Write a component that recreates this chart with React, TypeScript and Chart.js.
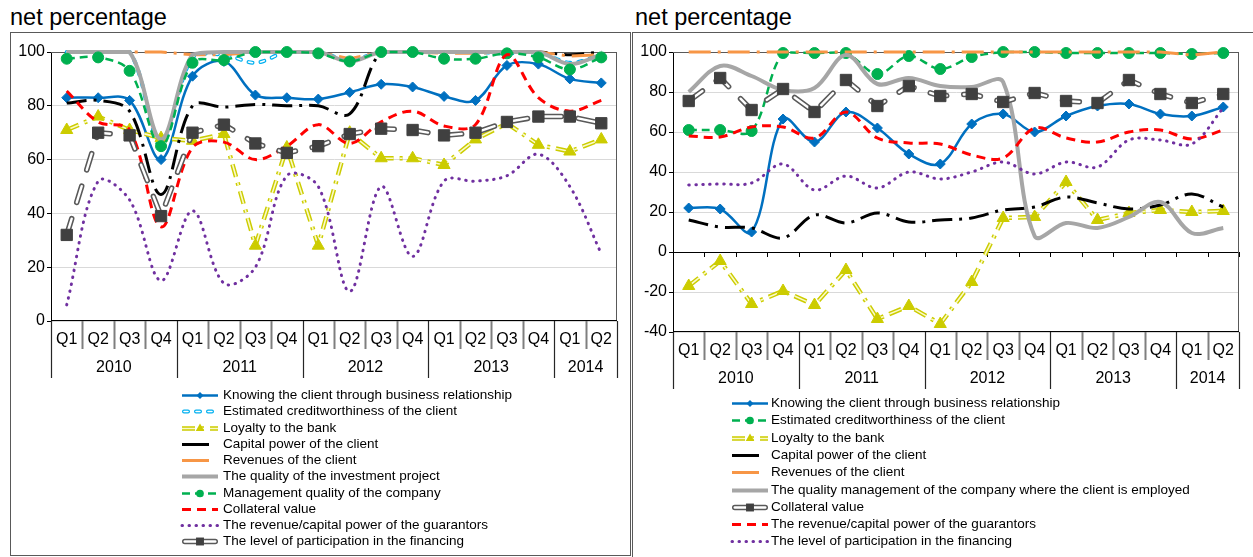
import React, { useEffect, useRef } from 'react';
import { Chart, registerables } from 'chart.js';

Chart.register(...registerables);

const FONT = '"Liberation Sans", Arial, sans-serif';

// ---------- categories ----------
const QUARTERS = ['Q1', 'Q2', 'Q3', 'Q4', 'Q1', 'Q2', 'Q3', 'Q4', 'Q1', 'Q2', 'Q3', 'Q4', 'Q1', 'Q2', 'Q3', 'Q4', 'Q1', 'Q2'];
const YEARS = ['2010', '2011', '2012', '2013', '2014'];
const YEAR_SPANS = [4, 4, 4, 4, 2];

const TITLE = 'net percentage';
const LEFT_Y_MIN = 0;
const LEFT_Y_MAX = 100;
const RIGHT_Y_MIN = -40;
const RIGHT_Y_MAX = 100;
const Y_STEP = 20;

// ---------- left panel ----------
const LEFT_LABELS = [
  'Knowing the client through business relationship',
  'Estimated creditworthiness of the client',
  'Loyalty to the bank',
  'Capital power of the client',
  'Revenues of the client',
  'The quality of the investment project',
  'Management quality of the company',
  'Collateral value',
  'The revenue/capital power of the guarantors',
  'The level of participation in the financing',
];
const L_KNOWING = [83, 83, 82, 60, 91, 96.5, 84, 83, 82.5, 85, 88, 87, 83.5, 82, 95, 95.5, 90, 88.5];
const L_CREDIT = [100, 100, 100, 66, 98, 99, 96, 100, 100, 97, 100, 100, 100, 100, 99.5, 100, 96, 99];
const L_LOYALTY = [71, 76, 71, 68, 67, 69.5, 28, 64.5, 28, 70, 60.5, 60.5, 58, 67.5, 73.5, 65.5, 63, 67.5];
const L_CAPITAL = [81, 82, 78, 47, 80, 79.5, 80.5, 80, 80, 77, 100, 100, 100, 100, 100, 100, 99, 100];
const L_REVENUES = [100, 100, 100, 100, 99, 99, 100, 100, 100, 97.5, 100, 100, 99.5, 99.5, 100, 100, 98.5, 99];
const L_QUALITY = [100, 100, 100, 67.5, 99, 100, 100, 100, 100, 96.5, 100, 100, 100, 100, 100, 100, 95.5, 99];
const L_MANAGEMENT = [97.5, 98, 93, 65, 96, 97, 100, 100, 99.5, 96.5, 100, 100, 97.5, 97.5, 99.5, 98, 93.5, 98];
const L_COLLATERAL = [85.5, 74, 71, 35, 64.5, 66.5, 60, 65, 73, 66, 74, 78, 72.5, 73, 99, 83, 78, 82];
const L_GUARANTORS = [6, 52, 45, 15, 41, 14, 20, 54, 50, 11, 50, 24, 52, 52, 54, 62, 50, 25];
const L_PARTICIPATION = [32, 70, 69, 39, 70, 73, 66, 62.5, 65, 69.5, 71.5, 71, 69, 70, 74, 76, 76, 73.5];

// ---------- right panel ----------
const RIGHT_LABELS = [
  'Knowing the client through business relationship',
  'Estimated creditworthiness of the client',
  'Loyalty to the bank',
  'Capital power of the client',
  'Revenues of the client',
  'The quality management of the company where the client is employed',
  'Collateral value',
  'The revenue/capital power of the guarantors',
  'The level of participation in the financing',
];
const R_KNOWING = [22, 21.5, 10, 66.5, 55, 70, 62, 49, 44, 64, 69, 60, 68, 73, 74, 69, 68, 72.5];
const R_CREDIT = [61, 61, 60.5, 99.5, 99.5, 99.5, 89, 98, 91.5, 97.5, 100, 100, 99.5, 99.5, 99.5, 99.5, 99, 99.5];
const R_LOYALTY = [-17, -4.5, -26, -19.5, -26.5, -9, -33.5, -27, -36, -15, 17, 17.5, 35, 16, 19.5, 21, 20, 20.5];
const R_CAPITAL = [16, 12.5, 12, 7, 18.5, 14.5, 19.5, 15, 16, 17, 21, 22.5, 27.5, 24.5, 21.5, 23.5, 29, 22.5];
const R_REVENUES = [100, 100, 100, 100, 100, 100, 100, 100, 100, 100, 100, 100, 100, 100, 100, 100, 98.5, 100];
const R_QUALITY = [80, 93, 88, 81, 82, 98.5, 84, 87, 83, 82.5, 85, 8, 14.5, 12, 17.5, 25, 9.5, 12];
const R_COLLATERAL = [75.5, 87, 71, 81.5, 70, 86, 73, 83, 78, 79, 75, 79.5, 75.5, 74.5, 86, 79, 74.5, 79];
const R_GUARANTORS = [58, 57.5, 62.5, 62.5, 57, 70, 57, 54.5, 54, 48.5, 47, 62, 57, 55, 60, 61, 56.5, 61];
const R_PARTICIPATION = [33.5, 34, 34.5, 44, 31, 38, 32, 40, 36.5, 40, 45, 39, 45, 42.5, 56, 56, 54, 72];

// ---------- styles ----------
type Style = {
  color: string;
  width: number;
  dash?: number[];
  cap?: CanvasLineCap;
  inner?: string;
  innerWidth?: number;
  tension: number;
  point?: string;
  pointRadius?: number;
  pointColor?: string;
  legendSolid?: boolean;
  legendDash?: number[];
};

const STYLES: Record<string, Style> = {
  knowing: { color: '#0070C0', width: 2.5, tension: 0.35, point: 'rectRot', pointRadius: 5 },
  creditHollow: { color: '#00B0F0', width: 4, dash: [4, 8], cap: 'round', inner: '#FFFFFF', innerWidth: 1.6, tension: 0.35 },
  loyalty: { color: '#CCCC00', width: 4.5, dash: [13, 6, 3, 6], inner: '#FAFAC8', innerWidth: 1.6, tension: 0, point: 'triangle', pointRadius: 7 },
  capital: { color: '#000000', width: 3, dash: [20, 7, 3, 7], tension: 0.35, legendSolid: true },
  revenues: { color: '#F79646', width: 3, dash: [22, 7, 3, 7], tension: 0, legendSolid: true },
  quality: { color: '#A6A6A6', width: 4, tension: 0.35 },
  greenDots: { color: '#00B050', width: 2.5, dash: [8, 5], tension: 0.35, point: 'circle', pointRadius: 5.5 },
  redDash: { color: '#FF0000', width: 3, dash: [9, 6], tension: 0.35 },
  purpleDots: { color: '#7030A0', width: 3, dash: [0.5, 6.5], cap: 'round', tension: 0.35 },
  squares: {
    color: '#595959', width: 5.5, dash: [17, 17], cap: 'round', inner: '#FFFFFF', innerWidth: 2.4,
    tension: 0, point: 'rect', pointRadius: 8, pointColor: '#404040', legendDash: [],
  },
};

type Series = { label: string; data: number[]; style: Style };

const LEFT_SERIES: Series[] = [
  { label: LEFT_LABELS[0], data: L_KNOWING, style: STYLES.knowing },
  { label: LEFT_LABELS[1], data: L_CREDIT, style: STYLES.creditHollow },
  { label: LEFT_LABELS[2], data: L_LOYALTY, style: STYLES.loyalty },
  { label: LEFT_LABELS[3], data: L_CAPITAL, style: STYLES.capital },
  { label: LEFT_LABELS[4], data: L_REVENUES, style: STYLES.revenues },
  { label: LEFT_LABELS[5], data: L_QUALITY, style: STYLES.quality },
  { label: LEFT_LABELS[6], data: L_MANAGEMENT, style: STYLES.greenDots },
  { label: LEFT_LABELS[7], data: L_COLLATERAL, style: STYLES.redDash },
  { label: LEFT_LABELS[8], data: L_GUARANTORS, style: STYLES.purpleDots },
  { label: LEFT_LABELS[9], data: L_PARTICIPATION, style: STYLES.squares },
];

const RIGHT_SERIES: Series[] = [
  { label: RIGHT_LABELS[0], data: R_KNOWING, style: STYLES.knowing },
  { label: RIGHT_LABELS[1], data: R_CREDIT, style: STYLES.greenDots },
  { label: RIGHT_LABELS[2], data: R_LOYALTY, style: STYLES.loyalty },
  { label: RIGHT_LABELS[3], data: R_CAPITAL, style: STYLES.capital },
  { label: RIGHT_LABELS[4], data: R_REVENUES, style: STYLES.revenues },
  { label: RIGHT_LABELS[5], data: R_QUALITY, style: STYLES.quality },
  { label: RIGHT_LABELS[6], data: R_COLLATERAL, style: STYLES.squares },
  { label: RIGHT_LABELS[7], data: R_GUARANTORS, style: STYLES.redDash },
  { label: RIGHT_LABELS[8], data: R_PARTICIPATION, style: STYLES.purpleDots },
];

function buildDatasets(series: Series[]) {
  const out: any[] = [];
  const N = series.length;
  series.forEach((s, i) => {
    const st = s.style;
    const pc = st.pointColor || st.color;
    const pointProps = {
      pointStyle: st.point || 'circle',
      pointRadius: st.point ? st.pointRadius : 0,
      pointBackgroundColor: pc,
      pointBorderColor: pc,
      pointBorderWidth: 1,
      pointHoverRadius: st.point ? st.pointRadius : 0,
    };
    const base = {
      label: s.label,
      data: s.data,
      borderColor: st.color,
      borderWidth: st.width,
      borderDash: st.dash || [],
      borderCapStyle: st.cap || 'butt',
      borderJoinStyle: 'round',
      tension: st.tension,
      fill: false,
      clip: 10,
    };
    if (st.inner) {
      out.push({ ...base, order: (N - i) * 2, pointRadius: 0, pointHoverRadius: 0 });
      out.push({
        ...base,
        borderColor: st.inner,
        borderWidth: st.innerWidth,
        order: (N - i) * 2 - 1,
        ...pointProps,
      });
    } else {
      out.push({ ...base, order: (N - i) * 2, ...pointProps });
    }
  });
  return out;
}

function drawMarker(ctx: CanvasRenderingContext2D, kind: string, x: number, y: number, r: number, color: string) {
  ctx.save();
  ctx.setLineDash([]);
  ctx.fillStyle = color;
  ctx.beginPath();
  if (kind === 'circle') {
    ctx.arc(x, y, r, 0, Math.PI * 2);
  } else if (kind === 'rectRot') {
    ctx.moveTo(x, y - r);
    ctx.lineTo(x + r, y);
    ctx.lineTo(x, y + r);
    ctx.lineTo(x - r, y);
    ctx.closePath();
  } else if (kind === 'triangle') {
    ctx.moveTo(x, y - r);
    ctx.lineTo(x + r * 0.866, y + r * 0.5);
    ctx.lineTo(x - r * 0.866, y + r * 0.5);
    ctx.closePath();
  } else {
    const s = r * Math.SQRT1_2;
    ctx.rect(x - s, y - s, 2 * s, 2 * s);
  }
  ctx.fill();
  ctx.restore();
}

type LegendPos = { x0: number; x1: number; tx: number; y0: number; dy: number };

function makePlugins(series: Series[], legend: LegendPos, zeroTicks: boolean) {
  return [
    {
      id: 'plotFrame',
      beforeDatasetsDraw(chart: any) {
        const { ctx, chartArea } = chart;
        const { left, right, top, bottom } = chartArea;
        ctx.save();
        ctx.strokeStyle = '#595959';
        ctx.lineWidth = 1;
        ctx.beginPath();
        ctx.moveTo(left, top + 0.5);
        ctx.lineTo(right, top + 0.5);
        ctx.moveTo(right - 0.5, top);
        ctx.lineTo(right - 0.5, bottom);
        ctx.stroke();
        ctx.strokeStyle = '#000';
        ctx.beginPath();
        ctx.moveTo(left, bottom - 0.5);
        ctx.lineTo(right, bottom - 0.5);
        ctx.stroke();
        if (zeroTicks) {
          const xs = chart.scales.x;
          const ys = chart.scales.y;
          const y0 = ys.getPixelForValue(0);
          const w = xs.getPixelForValue(1) - xs.getPixelForValue(0);
          const start = xs.getPixelForValue(0) - w / 2;
          ctx.beginPath();
          for (let i = 0; i <= QUARTERS.length; i++) {
            const x = Math.round(start + i * w) + 0.5;
            ctx.moveTo(x, y0);
            ctx.lineTo(x, y0 + 5);
          }
          ctx.stroke();
        }
        ctx.restore();
      },
      afterDraw(chart: any) {
        const { ctx, chartArea } = chart;
        const xs = chart.scales.x;
        const bottom = chartArea.bottom;
        const w = xs.getPixelForValue(1) - xs.getPixelForValue(0);
        const start = xs.getPixelForValue(0) - w / 2;
        const yearBounds: number[] = [0];
        YEAR_SPANS.forEach((s) => yearBounds.push(yearBounds[yearBounds.length - 1] + s));
        ctx.save();
        for (let i = 0; i <= QUARTERS.length; i++) {
          const x = Math.round(start + i * w) + 0.5;
          const isYear = yearBounds.indexOf(i) >= 0;
          ctx.beginPath();
          if (isYear) {
            ctx.strokeStyle = '#262626';
            ctx.lineWidth = 1.2;
            ctx.moveTo(x, bottom);
            ctx.lineTo(x, bottom + 57);
          } else {
            ctx.strokeStyle = '#7F7F7F';
            ctx.lineWidth = 2;
            ctx.moveTo(x, bottom);
            ctx.lineTo(x, bottom + 28);
          }
          ctx.stroke();
        }
        ctx.fillStyle = '#000';
        ctx.font = '16px ' + FONT;
        ctx.textAlign = 'center';
        ctx.textBaseline = 'middle';
        QUARTERS.forEach((q, i) => {
          ctx.fillText(q, xs.getPixelForValue(i), bottom + 19);
        });
        YEARS.forEach((yr, k) => {
          const a = yearBounds[k];
          const b = yearBounds[k + 1];
          const cx = start + ((a + b) / 2) * w;
          ctx.fillText(yr, cx, bottom + 47);
        });
        // legend
        ctx.font = '13.5px ' + FONT;
        ctx.textAlign = 'left';
        series.forEach((s, i) => {
          const st = s.style;
          const y = Math.round(legend.y0 + i * legend.dy) + 0.5;
          const capPad = st.cap === 'round' && st.inner ? st.width / 2 : 0;
          const xa = legend.x0 + capPad;
          const xb = (st.legendSolid ? legend.x0 + 27 : legend.x1) - capPad;
          const dash = st.legendSolid ? [] : st.legendDash || st.dash || [];
          ctx.save();
          ctx.lineCap = st.cap || 'butt';
          ctx.setLineDash(dash);
          ctx.strokeStyle = st.color;
          ctx.lineWidth = st.width;
          ctx.beginPath();
          ctx.moveTo(xa, y);
          ctx.lineTo(xb, y);
          ctx.stroke();
          if (st.inner) {
            ctx.strokeStyle = st.inner;
            ctx.lineWidth = st.innerWidth || 1;
            ctx.beginPath();
            ctx.moveTo(xa, y);
            ctx.lineTo(xb, y);
            ctx.stroke();
          }
          ctx.restore();
          if (st.point) {
            drawMarker(ctx, st.point, (legend.x0 + legend.x1) / 2, y, (st.pointRadius || 4) * 0.7, st.pointColor || st.color);
          }
          ctx.fillStyle = '#000';
          ctx.fillText(s.label, legend.tx, y);
        });
        ctx.restore();
      },
    },
  ];
}

type PanelProps = {
  series: Series[];
  yMin: number;
  yMax: number;
  width: number;
  height: number;
  plotBottom: number;
  legend: LegendPos;
  zeroLine: boolean;
  style: React.CSSProperties;
};

function ChartPanel({ series, yMin, yMax, width, height, plotBottom, legend, zeroLine, style }: PanelProps) {
  const ref = useRef<HTMLCanvasElement>(null);
  useEffect(() => {
    if (!ref.current) return;
    const chart = new Chart(ref.current, {
      type: 'line',
      data: { labels: QUARTERS, datasets: buildDatasets(series) },
      options: {
        responsive: false,
        animation: false,
        events: [],
        layout: { padding: { left: 0, top: 20, right: width - 607, bottom: 0 } },
        plugins: {
          legend: { display: false },
          tooltip: { enabled: false },
          title: { display: false },
        },
        elements: { line: { capBezierPoints: true } },
        scales: {
          x: {
            type: 'category',
            offset: true,
            grid: { display: false },
            border: { display: false },
            ticks: { display: false },
            afterFit: (s: any) => {
              s.height = height - plotBottom;
            },
          },
          y: {
            min: yMin,
            max: yMax,
            ticks: {
              stepSize: Y_STEP,
              color: '#000',
              padding: 2,
              font: { size: 16, family: FONT },
            },
            grid: {
              color: (c: any) => (c.tick && c.tick.value === 0 && zeroLine ? '#000000' : '#D9D9D9'),
              lineWidth: 1,
              tickLength: 4,
              tickColor: '#000',
            },
            border: { display: true, color: '#000', width: 1 },
            afterFit: (s: any) => {
              s.width = 41;
            },
          },
        },
      } as any,
      plugins: makePlugins(series, legend, zeroLine) as any,
    });
    return () => chart.destroy();
  }, []);
  return (
    <canvas
      ref={ref}
      width={width}
      height={height}
      style={{ position: 'absolute', width, height, ...style }}
    />
  );
}

export default function App() {
  const titleStyle: React.CSSProperties = {
    position: 'absolute',
    top: 6,
    fontFamily: FONT,
    fontSize: 23.5,
    lineHeight: '23.5px',
    color: '#000',
    whiteSpace: 'nowrap',
  };
  return (
    <div
      style={{
        position: 'fixed',
        left: 0,
        top: 0,
        width: 1253,
        height: 557,
        overflow: 'hidden',
        background: '#fff',
      }}
    >
      <div style={{ ...titleStyle, left: 10 }}>{TITLE}</div>
      <div style={{ ...titleStyle, left: 635 }}>{TITLE}</div>
      <div
        style={{
          position: 'absolute',
          left: 10,
          top: 32,
          width: 621,
          height: 524,
          border: '1px solid #595959',
          boxSizing: 'border-box',
        }}
      />
      <div
        style={{
          position: 'absolute',
          left: 632,
          top: 32,
          width: 660,
          height: 560,
          border: '1px solid #595959',
          boxSizing: 'border-box',
        }}
      />
      <ChartPanel
        series={LEFT_SERIES}
        yMin={LEFT_Y_MIN}
        yMax={LEFT_Y_MAX}
        width={620}
        height={523}
        plotBottom={289}
        legend={{ x0: 172, x1: 208, tx: 213, y0: 363, dy: 16.25 }}
        zeroLine={false}
        style={{ left: 10, top: 32 }}
      />
      <ChartPanel
        series={RIGHT_SERIES}
        yMin={RIGHT_Y_MIN}
        yMax={RIGHT_Y_MAX}
        width={621}
        height={525}
        plotBottom={300}
        legend={{ x0: 100, x1: 136, tx: 139, y0: 371, dy: 17.3 }}
        zeroLine={true}
        style={{ left: 632, top: 32 }}
      />
    </div>
  );
}
